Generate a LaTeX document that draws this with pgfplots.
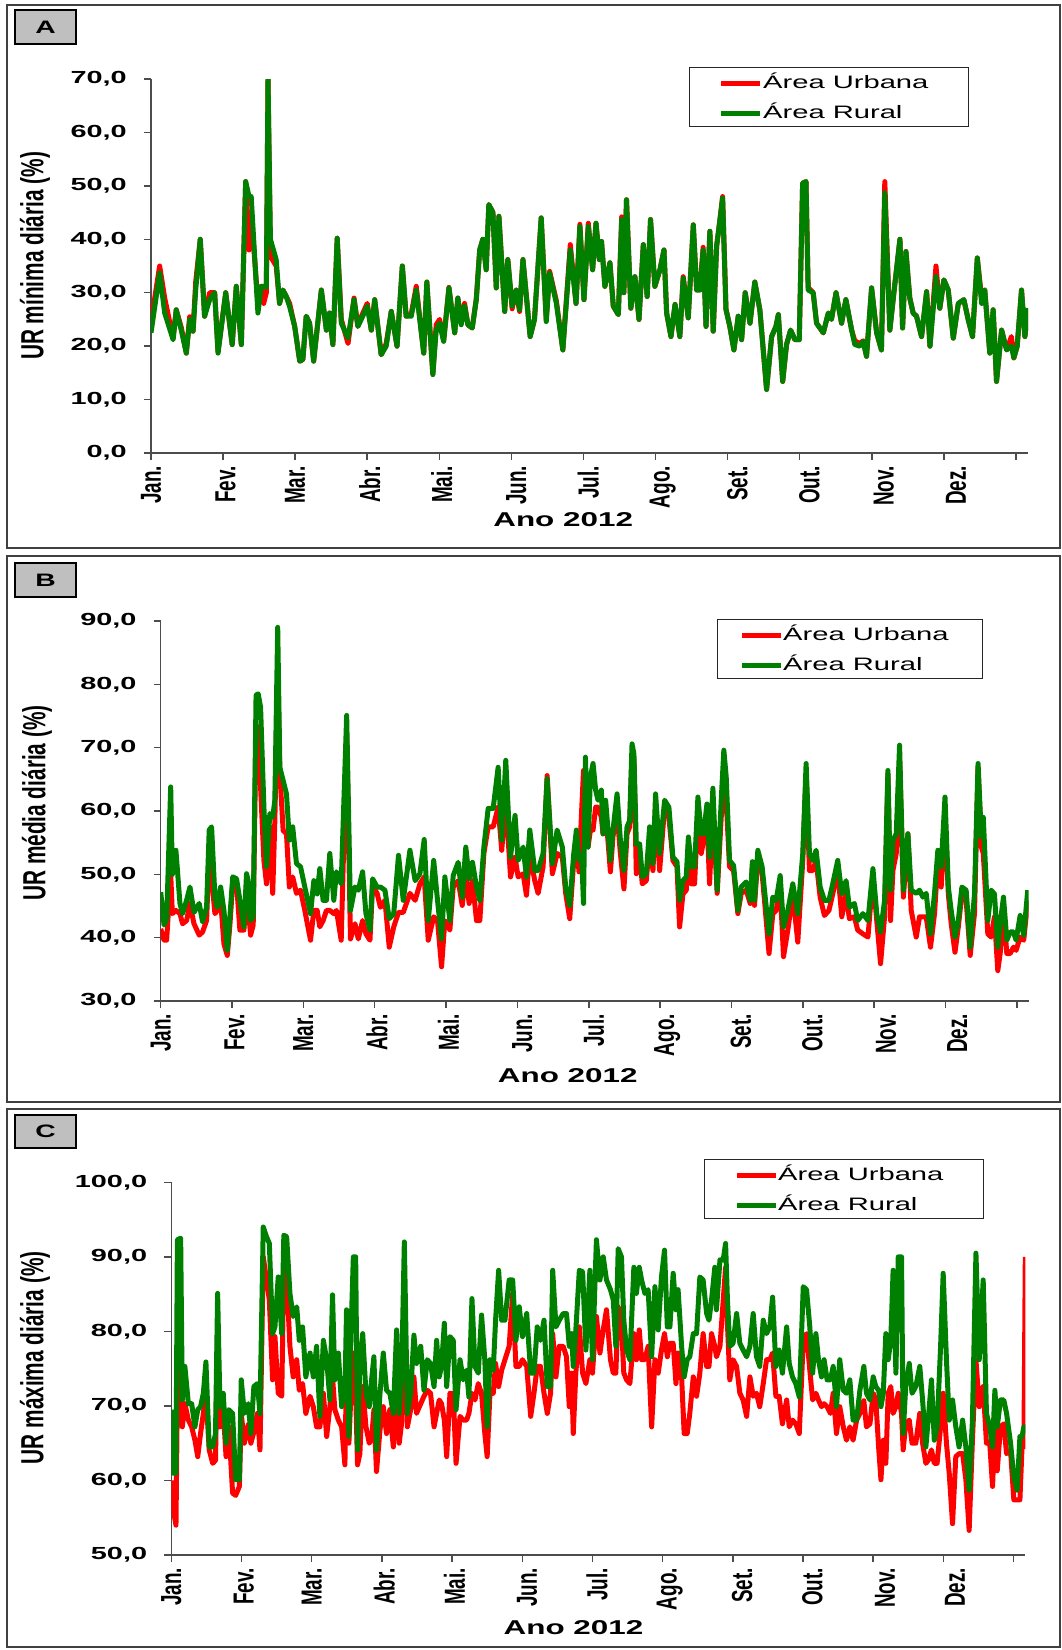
\documentclass[border=0pt]{standalone}
\usepackage{fontspec}
\usepackage{pgfplots}
\usepackage{pgfplotstable}
\pgfplotsset{compat=1.18}
\newfontfamily\tickf{Liberation Sans}[FakeStretch=1.65]
\newfontfamily\legf{Liberation Sans}[FakeStretch=1.62]
\newfontfamily\titf{Liberation Sans}[FakeStretch=1.57]
\newfontfamily\rotf{Liberation Sans}[FakeStretch=0.65]
\definecolor{urb}{RGB}{255,0,0}
\definecolor{rur}{RGB}{0,128,0}

\pgfplotstableread{
d g r
0 22.5 24.5
3.6 33.7 35
5.7 26.2 29
9.2 21.2 21.5
10.5 26.8 26.8
12.6 23 23.5
14.7 18.7 18.7
16.1 25 25.5
17.5 22.8 22.8
18.6 30.5 32
20.5 40 40
22.3 25.6 25.6
24.4 28.7 30
26.5 30 30
27.9 18.7 19
31.1 30 30
33.8 20.3 20.3
35.5 31.2 31.2
37.6 20.3 20.3
39.4 50.8 50.8
40.8 48 38
41.7 48 45
44.5 26.2 28
45.9 31.2 31.2
46.9 31.2 28
48 31 30
48.7 70 70
49.7 40 36.8
52.1 36.2 35
53.5 28 28
54.9 30.5 30.5
56.3 29.3 29.3
57.7 27.4 28
59.8 23.7 23.7
61.9 17.2 17.2
63.2 17.5 17.5
64.6 25.6 25.6
66 24.3 24.3
67.7 17.2 17.2
70.9 30.5 30.5
73 23 23
74.3 26.2 26.2
75.7 20.3 20.3
77.5 40.2 40.2
79.2 24.3 25
82 21.5 20.5
84.5 28.7 29
86.1 23.7 23.7
87.5 25 25.5
90 27.5 28
91.7 23 23
93.1 28.7 28.7
95.8 18.4 18.4
97.9 20 20.5
100 26.5 26.5
102.4 20 20
104.6 35 35
106.2 25.6 25.6
108.3 25.6 26
110.4 30.5 31.2
113.5 18.7 18.7
114.8 32 32
117.3 14.7 14.7
118.7 23 24
120.1 24.3 25
121.8 20.9 21
124 30.9 31
126.4 22.5 22.5
127.7 29 29
129.1 24 24.5
130.5 27.5 28
131.9 24 24
133.7 23.4 23.4
135.4 28.7 29
136.8 38 38
138.1 40 40
139.5 34.3 34.3
140.6 46.5 46.5
142.3 45 45
143.7 30.9 30.9
144.8 44.3 44.3
147.2 26.5 26.5
148.5 36.2 36.2
150.3 27.5 27
152 30.5 30.5
153.4 26.8 26.5
154.8 36.2 36.2
157.8 21.8 21.8
159.6 25 25
162.4 44 44
164.5 24.6 25
165.9 33.7 34
168.7 28 28.5
171.4 19.3 19.3
174.5 38 39
176.9 28 28
178.5 42.4 42.8
180.2 28.7 28.7
182 42.4 43
183.8 34.3 34.3
185.2 43 43
186.6 36.2 36.2
187.5 39.6 39.6
188.9 31.2 31.2
191 35.6 35.6
192.4 27.5 27.5
194.5 25.9 25.9
195.9 43.7 44.2
196.8 30 30
197.9 47.4 47.4
199.7 27.1 27.1
201.4 33 33
203.1 25 25
204.9 39 39
206.5 29.3 29.3
207.9 43.7 43.7
209.7 31.2 31.2
211.8 34.3 34.3
213.5 38 38
214.6 26.2 26.2
216.4 21.8 21.8
218.1 27.8 27.8
220.1 21.8 21.8
221.5 32.7 33
223.6 25.3 25.3
225.7 42.7 42.7
227.1 30.5 30.5
228.5 30.5 31
229.8 38 38.5
231 23.7 23.7
232.6 41.5 41.5
234 22.8 22.8
235.4 38.7 38.7
236.8 43.7 43.7
237.9 47.7 48
239.3 26.8 27
240.9 23.7 23.7
242.6 19.3 19.3
244.4 25.6 25.6
245.8 21.2 21.2
247.3 30 30
249.3 24.3 24.3
251.3 32 32
253.4 26.8 26.8
256.2 11.9 11.9
258.3 21.8 21.8
260.1 23.7 23.7
261.1 25.9 25.9
262.9 13.4 13.4
264.5 20.3 20.3
266.2 23 23
268 21.2 21.2
269.8 21.2 21.2
271.2 50.5 50.5
272.6 50.8 50.8
273.5 30.5 31
275.6 30 30
277 24.3 24.3
279.8 22.5 22.5
281.9 26.2 26.2
283.2 25 25
285.1 30 30
287.4 24.3 24.3
289.2 28.7 28.7
291.6 23 23
292.9 20.3 21
295 20 20.5
296.4 20.9 21
297.8 18.1 18.1
299.9 30.9 30.9
302 22.5 22.5
304 19.3 19.3
305.4 48.7 50.8
307.5 23 23
309.3 30.5 30.5
311.7 40 40
312.8 23.4 23.4
314.2 37.7 37.7
315.8 29 29
317.2 26.2 26.2
318.6 25.6 25.6
320.7 21.8 21.8
322.8 30.2 30.2
324.2 20 20
326.7 33 35
328.3 27.1 27.1
330 32.4 32.4
331.8 30.5 30.5
333.9 21.5 21.5
336 28 28
338.3 28.7 28.7
340.1 25 25
341.9 21.8 21.8
343.9 36.5 36.5
345.7 28 29
347 30.5 30.5
349.1 18.7 18.7
350.5 26.8 26.8
351.9 13.4 13.4
354 23 23
356.1 19.3 19.3
358.1 20 21.8
359.1 17.8 17.8
360.5 20 20
362.3 30.5 30.5
363.7 21.8 21.8
365 27.1 27.1
}\dataA

\pgfplotstableread{
d g r
0 47.2 41.4
1.4 42 39.6
2.5 42.8 39.6
4.2 63.8 50.1
4.9 50 43.8
6.4 53.8 44.3
8.1 45.4 43.8
9.2 43.8 42.2
10.9 45.9 42.7
12.3 48 45.4
14 44 42.2
16.2 45.4 40.4
17.6 42.5 40.9
19.3 44.8 42.7
20.4 57 53.8
21.4 57.5 49.6
22.8 46.4 43.8
23.8 44.8 44.3
25.2 48 45.9
26.6 44.3 39
28 38 37.2
29.1 43.3 42
30.3 49.6 48.8
31.9 49.3 48.5
33.3 45.9 41.2
35 41.7 41.2
36.1 50.1 48.5
36.8 49 44.8
37.8 42.7 40.4
38.9 43.3 42
40.1 78.3 73.3
41 78.5 73.3
42 76.4 63.8
43.4 60.6 52.2
44.5 51.2 48.5
45.9 59.6 57.5
47.1 59 47
48 61.7 58.5
49.2 89 82.2
50.1 66.9 66
51.5 64.8 56.9
52.9 62.7 56.4
54.1 55.4 48
55.5 57.5 49.6
57.1 51.7 47
58.8 51.2 47.5
60.6 48 44.3
63 43.8 39.6
64.4 49 44.3
65.8 46.9 44.3
66.9 50.9 41.7
68.3 45.9 42.7
69.7 45.9 44.3
71.1 53.3 44.3
72.8 45.9 43.8
73.9 50.4 44.3
75.9 48.5 39.6
78.2 75.1 72
79.8 44.3 39.8
81.7 48 42.2
83.1 47.5 39.8
84.9 50.4 42.7
86.3 43.8 40.6
88 41.2 39.6
89.1 49.3 48.2
91 48 47
92.4 48 44.8
94.3 47.5 45.9
96.1 43 38.5
98 43.8 41.7
100 53 44
102 45.9 44
104.8 53.8 47
107 49 45.9
109 50.1 48.5
110.8 55.5 49.6
112.5 42.7 39.6
114.8 52.2 43.3
116.4 45.9 42.7
118.1 39.8 35.4
119.5 49.6 42.7
121.6 42.7 41.2
123 49.8 48
125.1 51.9 49
126.8 46.4 45.1
128.3 54.3 50.1
129.7 49.3 45.4
131.1 51.9 49
132.8 48 42.7
134.2 45.9 42.7
135.9 54.3 53.3
137.7 60.4 57.5
139.8 60.4 57.5
141.9 66.9 60.6
143.4 55.4 53.8
145.1 68 61.7
147.1 52.7 49.6
149 59.3 52.7
150.3 52.2 49.6
152.4 54.3 50.1
153.8 49.6 46.7
155.2 57 53.3
157.3 50.6 49
158.7 50.6 47
160.8 53.3 51.2
162.5 65.1 65.6
164.7 51.7 50.1
166.7 57 53.3
168.9 54.3 52.7
170.3 48 47
172 45.1 43
173.7 53.3 52.2
174.8 57 55.4
175.9 52.2 50.4
177 53 60
177.8 45.4 66.4
178.6 68.5 55
179.7 54.3 54.3
180.7 65.4 57
181.8 67.5 57
182.9 63.3 60.6
183.9 61.7 60.6
185.3 63.3 59
186 56.4 56.4
187.1 61.7 60
189.1 52.2 50.4
190.2 57 56
191.9 62.7 59.6
193.3 55.4 53.3
194.8 50.6 47.7
196.1 57.5 56.4
197.2 58.5 57.5
198.2 70.6 69
199 69 68
200 54.8 50.1
201.4 54.8 53.3
202.5 49.6 48.5
204.2 50.1 49
205.6 57.5 55.4
207 51.7 50.6
208.1 62.7 60.6
209.8 53.3 50.6
211.9 61.7 60.6
213.7 60.6 59
215.4 52.7 52.2
217.1 52 51.2
218.2 45.9 41.7
219.6 49 46.9
221 49.6 47.5
221.9 55.9 54.8
223.1 51.2 48.5
224.5 51.2 48.5
225.9 62.2 60
227.3 56.4 53.3
228.3 56.4 55.4
229.7 61.1 59
230.8 52.7 48.5
232.2 63.6 60.6
234 47.5 47
235.7 61.7 59
236.8 69.6 64.3
237.8 65.4 61.7
239.2 52.2 51.2
240.9 51.4 50.6
242.7 44.3 43.8
244.1 48 47
246.2 48.8 47.5
247.9 45.9 45.4
248.8 52 51.2
249.7 45.9 45.1
251.1 53.8 52.7
252.9 51.2 50.1
253.9 47.5 45.9
255.8 40.6 37.5
257.4 46.4 43.8
258.8 45.9 44.3
260.5 49.8 47.9
261.9 41.7 37
263.7 44.3 41.2
265.8 48.5 46.9
267.9 43.8 39.3
270 53.3 52.2
271.4 67.5 65.9
272.8 53.3 50.6
274.2 52.2 50.6
275.6 53.8 52.2
277.3 48 46.4
279.1 45.9 43.5
281 45.9 44.3
282.6 48.5 46.9
284.7 52.2 50.6
286.4 46.9 43.3
288.2 49 46.9
289.6 44.8 43
291.7 45.4 43.3
293.1 42.7 41.2
295.3 43.8 40.6
297.4 42.7 40.1
299.5 50.9 49.6
301.1 43.8 42.7
302.7 40.9 35.9
304.4 45.9 43.3
305.8 66.4 65.9
306.9 47.5 42.7
307.9 55.4 50.6
309.3 56.4 53.3
310.7 70.4 68
312.3 47.5 46.4
314.2 56.4 56.4
315.6 47.5 44.3
317.7 47 40.1
319.1 47.5 43.3
320.5 46.4 43.3
321.9 47 43.3
323.7 40.6 38.5
325.4 47 43.8
326.8 53.8 52.2
328.2 51.2 48
329.8 62.2 59.6
331.2 48 46.9
332.4 44.3 42.2
334 40.1 37.7
335.4 42.7 41.7
336.9 48 46.9
338.7 47.5 45.9
340.4 38.5 37.2
342.2 46.9 43.8
343.7 67.5 66.9
345.1 55.9 54.3
345.9 59 53.3
347.8 42.7 40.6
349.2 47.5 40.1
350.6 46.9 43.3
352 38.5 34.8
353 42.2 37.5
354.4 46.4 44.3
355.8 39.6 37.5
357.2 40.9 37.5
358.6 40.9 38.5
359.7 39.6 38
361.4 43.5 40.1
362.9 40.4 39.6
364.6 47.5 45.9
}\dataB

\pgfplotstableread{
d g r
0 69.5 60
0.6 61 56.5
2 61 54
2.6 92.3 71.7
4 92.5 81
4.7 70.8 67.2
5.8 75.3 70.3
7.3 70.3 68.1
8.7 70.3 67.2
10.1 67.2 65.4
11.3 69.5 63.2
12.5 69.9 66.3
13.7 71.7 69
14.8 75.9 71.7
16.2 64.5 64.1
17.7 64.5 62.3
18.9 66.3 62.7
19.8 85.1 80.6
20.8 69.9 67.2
22.2 71.7 69.5
23.4 65 63.2
24.6 69.5 67.2
26.2 69 58.3
27.5 60.1 58
29.1 60.1 59.2
29.9 73.5 69
31.2 69 65
32.9 70.3 67.5
34 66.3 65
35.3 72.6 66.5
36.8 73 69
37.9 69 64.1
39.3 94 90
40.7 92.7 86.9
41.9 91.8 84.2
43.3 79.7 73.5
44.3 80.6 79.3
45.7 87.3 71.7
47.2 79.7 71.3
48.1 92.9 89.6
49.3 92.7 87.3
50.7 85.1 78
52.1 82 73.9
53.6 83.3 76.2
54.7 78.8 72.1
56.1 80.6 73
57.5 73.9 69
59.3 77.1 71.3
60.7 73.9 69.9
62.1 78 67.2
63.5 68.6 67.2
65 78.8 71.7
66.4 76.2 65.9
67.8 70.8 70
68.9 84.9 73.9
69.9 73.5 69.5
71.4 77.1 68.1
72.8 69.9 67.2
74.2 71.7 62.1
74.9 82.9 75.3
75.9 65.9 65
76.8 79.7 71.7
77.8 90 77.1
78.8 90 71.7
79.6 64.1 62.1
80.6 76.2 63.6
81.8 79.7 72.6
83.2 71.7 67.2
84.6 69.9 65
85.6 73.5 65.5
86.6 76.6 69.5
87.7 64.1 61.2
89.2 71.7 66.8
90.6 77.1 69.9
92 72.1 66.3
93.4 71.7 69.5
94.9 69 64.5
96.3 80.2 71.7
97.4 69 65
98.4 73.5 67.6
99.6 92 82.4
100.9 69 67.2
102.3 71.7 69.5
103.7 79.5 73.9
104.8 75.7 69
106.6 78 70.3
108 72.1 71.3
109.4 76.2 72.1
110.8 75.7 71.7
112.3 72.6 67.2
113.4 78.8 69
114.5 73.9 70.8
115.5 75.3 70.3
116.7 81.1 68.1
117.7 72.6 63.2
119.1 79.3 71.7
120.5 78.8 71.7
121.7 69.5 62.3
123.4 76.2 68.6
124.8 73.5 68.1
126.2 74.8 68.1
127.2 71.2 69
128.5 84.4 71.7
129.8 75.3 70.8
131.2 74.4 73
132.6 82.2 71.7
134 76.2 66.3
135 67.2 63.2
136.2 76.2 71.7
137.6 74.8 71.7
138.6 81.5 75.7
139.9 88.2 72.6
141.2 81.5 74.8
142.6 81.5 76.2
144.4 86.9 78
145.9 86.9 85.1
147.3 78.8 75.3
148.7 83.3 75.3
150.1 79.3 76.2
151.9 82.4 75.3
153.6 74.4 68.6
155 74.4 71.7
156.4 80.6 75.3
157.8 78.8 75.3
159.3 81.5 71.7
160.7 72.6 69
162.1 72.6 71.7
163 88.2 79.7
164.4 80.6 73.9
165.8 81.5 78
167.5 82.4 78
168.9 82.4 76.6
170.1 78 69.9
171.1 79.7 74.4
171.8 75.3 66.3
172.9 80.2 74.4
174.4 88.2 80.6
175.8 88 74.4
177.2 77.5 73
178.9 88.2 76.2
180 76.2 74.4
181.7 92.3 82
183.2 86.9 77.1
184.6 90 80.2
186 86.9 82.9
187.7 85.6 76.2
188.9 84.2 74.4
190 78 74.4
191 91.1 83.3
192.4 90 81
193.4 81.5 74.4
194.6 77.5 73.5
196 76.2 73
197.7 88.6 79.7
198.8 85.1 76.2
200 88.6 80.2
201 86.9 76.2
202.4 85.1 76.2
203.8 85.6 78
205.3 76.6 67.2
206.7 86 76.2
208.1 80.2 74.4
209.5 87.3 77.5
210.8 90.9 79.7
212 80.6 76.6
213.1 80.6 78.4
214.5 87.8 78.4
215.7 82.9 73
216.6 85.6 77.1
218.1 78 73.9
219.2 73.9 66.3
220.5 76.2 66.3
221.6 76.6 69
223.1 79.7 73.9
224.5 79.7 71.3
225.9 87.3 74.4
227.3 86.9 79.7
228.8 82.4 75.3
229.8 81.5 75.3
230.9 84.2 79.7
232.3 88.6 78
233 82.9 76.6
234.5 89.6 78
235.9 89.6 84.2
236.9 91.8 88.6
237.7 84.2 81
238.7 78 73.5
240.1 78.4 76.2
241.6 82.4 75.3
243 78.4 71.7
244.4 77.5 70.8
245.9 76.6 68.6
247.3 78 73.9
248.7 82.4 71.3
250.1 76.6 71.7
251.5 75.3 69.9
253 81.5 73
254.4 79.7 76.2
255.8 80.6 76.2
257 84.6 77.1
258.4 75.3 71.3
259.8 77.5 71.3
261.2 74.4 67.6
263 80.6 70.8
264.1 75.7 67.2
265.5 73.9 68.1
266.9 73 67.6
268.4 71.2 66.3
270.1 86 78.8
271.5 85.6 79.7
272.9 80.6 74.8
274.1 74.4 70.8
275.5 79.7 71.7
276.6 76.2 70.8
277.9 73.9 69.9
279 76.2 70.3
280.3 73.5 69.9
281.7 73.5 69
282.9 75.3 71.7
284.3 69.9 66.3
285.7 76.2 69.9
287.2 72.1 67.2
288.6 71.7 65.4
290 73.5 67.2
291.4 68.1 65.4
292.9 68.1 68.1
294.3 72.1 69
296 75.3 70.7
297.1 71.7 67.2
298.6 70.8 67.6
300 73.9 71.7
301.1 72.6 70.8
302.3 72.1 64.5
303.3 69.9 60.1
304.3 71.7 65.4
305.4 79.7 62.3
306.4 76.2 71.7
307.5 78.8 72.6
308.5 88.2 69
309.7 74.4 69.9
310.7 90 71.7
312.1 90 69
312.8 66.3 64.1
313.9 72.6 67.6
315.4 75.7 68.1
316.6 71.7 65
318.2 72.6 65
319.9 75.3 69
321.1 70.8 65
322.5 64.5 62.3
323.5 68.1 62.7
324.9 73.5 64.1
326.1 65.4 62.3
327.3 67.2 62.3
328.8 78 67.2
329.9 87.8 71.7
331.3 76.2 65
332.5 68.1 60.9
333.9 70.8 54.2
335.3 67.2 63.2
336.7 64.5 63.6
338.2 68.1 63.6
339.6 64.5 60.1
341 58.7 53.3
342.4 68.1 65.4
343.9 90.5 76.2
345.3 76.2 69.9
347 86.9 72.6
348.4 69 65
349.8 67.2 65
351 64.5 59.2
352 72.1 67.2
353 67.2 61.3
354.4 70.8 67.2
355.8 70.8 67.6
357 69 63.6
358.7 65 64
360.1 60.5 57.4
361.5 58.7 57.4
362.7 65.9 57.4
363.6 65.9 64.5
364.4 67.2 64.5
365 67.2 90
}\dataC

\pgfplotsset{
  urbase/.style={
    scale only axis,
    axis lines*=left,
    axis line style={-, draw=black!70, line width=1.5pt},
    tick align=outside,
    major tick length=7pt,
    tick style={draw=black!70, line width=1.5pt},
    xmin=0, xmax=365,
    xtick={0,30,...,360},
    xticklabels={},
    extra x ticks={0,31,60,91,121,152,182,213,244,274,305,335},
    extra x tick labels={Jan.,Fev.,Mar.,Abr.,Mai.,Jun.,Jul.,Ago.,Set.,Out.,Nov.,Dez.},
    extra x tick style={major tick length=0pt,
      tick label style={yshift=-13pt, rotate=90, anchor=east, inner sep=0pt,
        font=\rotf\bfseries\fontsize{29}{29}\selectfont}},
    yticklabel style={inner sep=0pt, xshift=-17pt,
      font=\tickf\bfseries\fontsize{17.5}{18}\selectfont,
      /pgf/number format/.cd, fixed, fixed zerofill, precision=1, use comma, assume math mode=true},
    xlabel={Ano 2012},
    xlabel style={anchor=center, font=\titf\bfseries\fontsize{20}{20}\selectfont},
    ylabel style={anchor=center, font=\rotf\bfseries\fontsize{32}{32}\selectfont},
    legend cell align=left,
    legend image code/.code={\draw[##1, line width=4.5pt] (0pt,-1.5pt) -- (39pt,-1.5pt);},
  },
  urleg/.style n args={4}{legend style={at={(axis description cs:#1,#2)}, anchor=north west,
      draw=black!85, line width=1.2pt, fill=white, inner xsep=#3, inner ysep=6.5pt,
      row sep=14pt, column sep=#4,
      nodes={inner sep=0pt, text height=14pt, text depth=2pt},
      font=\legf\fontsize{18}{18}\selectfont}},
  urbline/.style={draw=urb, line width=5pt, line join=round, no markers},
  urrline/.style={draw=rur, line width=5pt, line join=round, no markers},
}

\begin{document}
\begin{tikzpicture}
\useasboundingbox (0pt,0pt) rectangle (1062pt,-1650pt);
\draw[black!75, line width=1.5pt] (7pt,-5pt) rectangle (1060pt,-548pt);
\draw[black!75, line width=1.5pt] (7pt,-556pt) rectangle (1060pt,-1102pt);
\draw[black!75, line width=1.5pt] (7pt,-1109pt) rectangle (1060pt,-1647pt);
\draw[black, line width=1.2pt, fill=black!25] (15pt,-10pt) rectangle (76pt,-44pt);
\node[font=\titf\bfseries\fontsize{18}{18}\selectfont] at (45.5pt,-27pt) {A};
\draw[black, line width=1.2pt, fill=black!25] (15pt,-563pt) rectangle (76pt,-597pt);
\node[font=\titf\bfseries\fontsize{18}{18}\selectfont] at (45.5pt,-580pt) {B};
\draw[black, line width=1.2pt, fill=black!25] (15pt,-1115pt) rectangle (76pt,-1148pt);
\node[font=\titf\bfseries\fontsize{18}{18}\selectfont] at (45.5pt,-1131.5pt) {C};

% Panel A
\begin{axis}[urbase, at={(151pt,-453pt)}, anchor=south west,
  width=877pt, height=374pt, ymin=0, ymax=70, ytick={0,10,...,70},
  ylabel={UR mínima diária (\%)},
  ylabel style={at={(axis description cs:-0.1323,0.527)}},
  xlabel style={at={(axis description cs:0.47,-0.179)}},
  urleg={0.6135}{1.032}{29pt}{1pt}]
\addplot[urbline] table[x=d, y=r] {\dataA};
\addlegendentry{\makebox[176pt][l]{Área Urbana}}
\addplot[urrline] table[x=d, y=g] {\dataA};
\addlegendentry{\makebox[176pt][l]{Área Rural}}
\end{axis}

% Panel B
\begin{axis}[urbase, at={(160.7pt,-1001pt)}, anchor=south west,
  width=868pt, height=380pt, ymin=30, ymax=90, ytick={30,40,...,90},
  ylabel={UR média diária (\%)},
  ylabel style={at={(axis description cs:-0.1425,0.521)}},
  xlabel style={at={(axis description cs:0.469,-0.195)}},
  urleg={0.641}{1.005}{22pt}{0pt}]
\addplot[urbline] table[x=d, y=r] {\dataB};
\addlegendentry{\makebox[177pt][l]{Área Urbana}}
\addplot[urrline] table[x=d, y=g] {\dataB};
\addlegendentry{\makebox[177pt][l]{Área Rural}}
\end{axis}

% Panel C
\begin{axis}[urbase, at={(171.3pt,-1555pt)}, anchor=south west,
  width=854pt, height=372.7pt, ymin=50, ymax=100, ytick={50,60,...,100},
  ylabel={UR máxima diária (\%)},
  ylabel style={at={(axis description cs:-0.1596,0.529)}},
  xlabel style={at={(axis description cs:0.471,-0.196)}},
  urleg={0.6238}{1.0625}{30pt}{0pt}]
\addplot[urbline] table[x=d, y=r] {\dataC};
\addlegendentry{\makebox[175pt][l]{Área Urbana}}
\addplot[urrline] table[x=d, y=g] {\dataC};
\addlegendentry{\makebox[175pt][l]{Área Rural}}
\end{axis}
\end{tikzpicture}
\end{document}
